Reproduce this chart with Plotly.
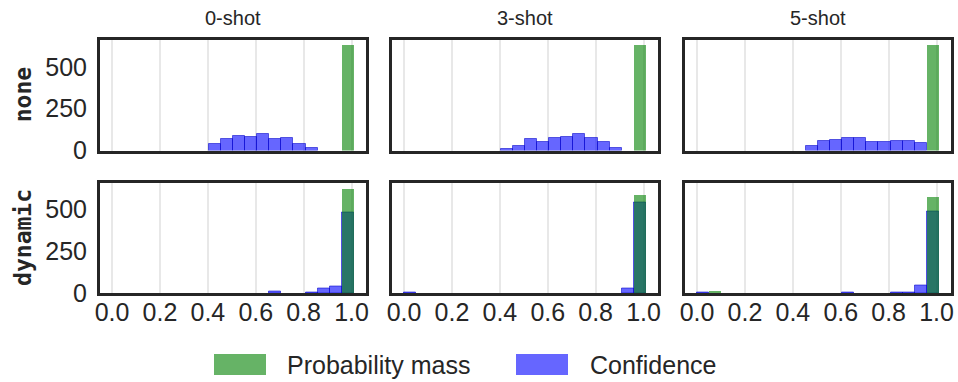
import numpy as np
import plotly.graph_objects as go

# ---------------- data ----------------
N_BINS = 20
BIN_MAX = 1.01
row_labels = ["none", "dynamic"]
col_titles = ["0-shot", "3-shot", "5-shot"]
x_ticks = [0.0, 0.2, 0.4, 0.6, 0.8, 1.0]
y_ticks = [0, 250, 500]

def counts(d):
    c = [None] * N_BINS
    for k, v in d.items():
        c[k] = v
    return c

# probability-mass histograms (green), bin index -> count
prob_none_0 = counts({19: 629})
prob_none_3 = counts({19: 629})
prob_none_5 = counts({19: 629})
prob_dyn_0 = counts({19: 625})
prob_dyn_3 = counts({0: 6, 19: 591})
prob_dyn_5 = counts({0: 5, 1: 18, 19: 579})

# confidence histograms (blue)
conf_none_0 = counts({8: 40, 9: 69, 10: 87, 11: 81, 12: 99, 13: 69, 14: 75, 15: 40, 16: 16})
conf_none_3 = counts({8: 10, 9: 28, 10: 69, 11: 52, 12: 75, 13: 81, 14: 99, 15: 75, 16: 52, 17: 16})
conf_none_5 = counts({9: 28, 10: 58, 11: 63, 12: 75, 13: 75, 14: 52, 15: 52, 16: 58, 17: 58, 18: 46})
conf_dyn_0 = counts({13: 8, 16: 6, 17: 26, 18: 38, 19: 482})
conf_dyn_3 = counts({0: 3, 18: 26, 19: 538})
conf_dyn_5 = counts({0: 3, 12: 5, 16: 5, 17: 5, 18: 44, 19: 490})

prob = [[prob_none_0, prob_none_3, prob_none_5], [prob_dyn_0, prob_dyn_3, prob_dyn_5]]
conf = [[conf_none_0, conf_none_3, conf_none_5], [conf_dyn_0, conf_dyn_3, conf_dyn_5]]

edges = np.linspace(0, BIN_MAX, N_BINS + 1)
centers = (edges[:-1] + edges[1:]) / 2
bw = edges[1] - edges[0]

# ---------------- layout geometry ----------------
W, H = 958, 382
col_px = [(100, 366), (392, 658), (685, 951)]
row_px = [(40, 150.5), (182.5, 293.3)]

TXT = "#262626"
FONT = "Liberation Sans, Arial, sans-serif"

fig = go.Figure()
layout = dict(
    width=W, height=H, margin=dict(l=0, r=0, t=0, b=0, autoexpand=False),
    plot_bgcolor="white", paper_bgcolor="white",
    barmode="overlay", bargap=0, showlegend=False,
    font=dict(family=FONT, color=TXT),
)

GREEN = "rgba(0,128,0,0.6)"
BLUE = "rgba(0,0,255,0.6)"

idx = 0
for r in range(2):
    for c in range(3):
        idx += 1
        xa = "x" if idx == 1 else f"x{idx}"
        ya = "y" if idx == 1 else f"y{idx}"
        fig.add_trace(go.Bar(x=centers, y=conf[r][c], width=bw, xaxis=xa, yaxis=ya,
                             marker=dict(color=BLUE, line=dict(color="rgba(0,0,200,0.55)", width=1)),
                             name="Confidence"))
        fig.add_trace(go.Bar(x=centers, y=prob[r][c], width=bw, xaxis=xa, yaxis=ya,
                             marker=dict(color=GREEN, line=dict(width=0)),
                             name="Probability mass"))
        x0, x1 = col_px[c]
        y0, y1 = row_px[r]
        layout["xaxis" if idx == 1 else f"xaxis{idx}"] = dict(
            domain=[x0 / W, x1 / W], anchor=ya, range=[-0.0505, 1.0605],
            tickvals=x_ticks, ticktext=[f"{v:.1f}" for v in x_ticks],
            showticklabels=(r == 1), ticks="", ticklabelstandoff=-5,
            tickfont=dict(size=25, color=TXT, family=FONT),
            showgrid=True, gridcolor="#e8e8e8", gridwidth=1.5, zeroline=False,
            showline=True, mirror=True, linewidth=3, linecolor=TXT, automargin=False,
        )
        layout["yaxis" if idx == 1 else f"yaxis{idx}"] = dict(
            domain=[1 - y1 / H, 1 - y0 / H], anchor=xa, range=[0, 660],
            tickvals=y_ticks, showticklabels=(c == 0),
            ticks="outside", ticklen=5, tickcolor="rgba(0,0,0,0)",
            tickfont=dict(size=25, color=TXT, family=FONT),
            showgrid=False, zeroline=False,
            showline=True, mirror=True, linewidth=3, linecolor=TXT, automargin=False,
        )

annotations = []
for c, t in enumerate(col_titles):
    x0, x1 = col_px[c]
    annotations.append(dict(text=t, x=(x0 + x1) / 2 / W, y=1 - 18 / H, xref="paper", yref="paper",
                            showarrow=False, font=dict(size=20, color=TXT, family=FONT),
                            xanchor="center", yanchor="middle"))
for r, t in enumerate(row_labels):
    y0, y1 = row_px[r]
    annotations.append(dict(text=f"<b>{t}</b>", x=23 / W, y=1 - (y0 + y1) / 2 / H, xref="paper", yref="paper",
                            showarrow=False, textangle=-90,
                            font=dict(size=23, color=TXT, family="DejaVu Sans Mono, monospace"),
                            xanchor="center", yanchor="middle"))

# legend (drawn manually to match the large patches)
legend_items = [("Probability mass", GREEN, 214, 266, 285), ("Confidence", BLUE, 516, 568, 588)]
shapes = []
for label, col, px0, px1, tx in legend_items:
    shapes.append(dict(type="rect", xref="paper", yref="paper", x0=px0 / W, x1=px1 / W,
                       y0=1 - 375 / H, y1=1 - 354 / H, fillcolor=col, line=dict(width=0)))
    annotations.append(dict(text=label, x=tx / W, y=1 - 364.5 / H, xref="paper", yref="paper",
                            showarrow=False, xanchor="left", yanchor="middle",
                            font=dict(size=25, color=TXT, family=FONT)))

layout["annotations"] = annotations
layout["shapes"] = shapes
fig.update_layout(**layout)
fig.write_html("out.html")
